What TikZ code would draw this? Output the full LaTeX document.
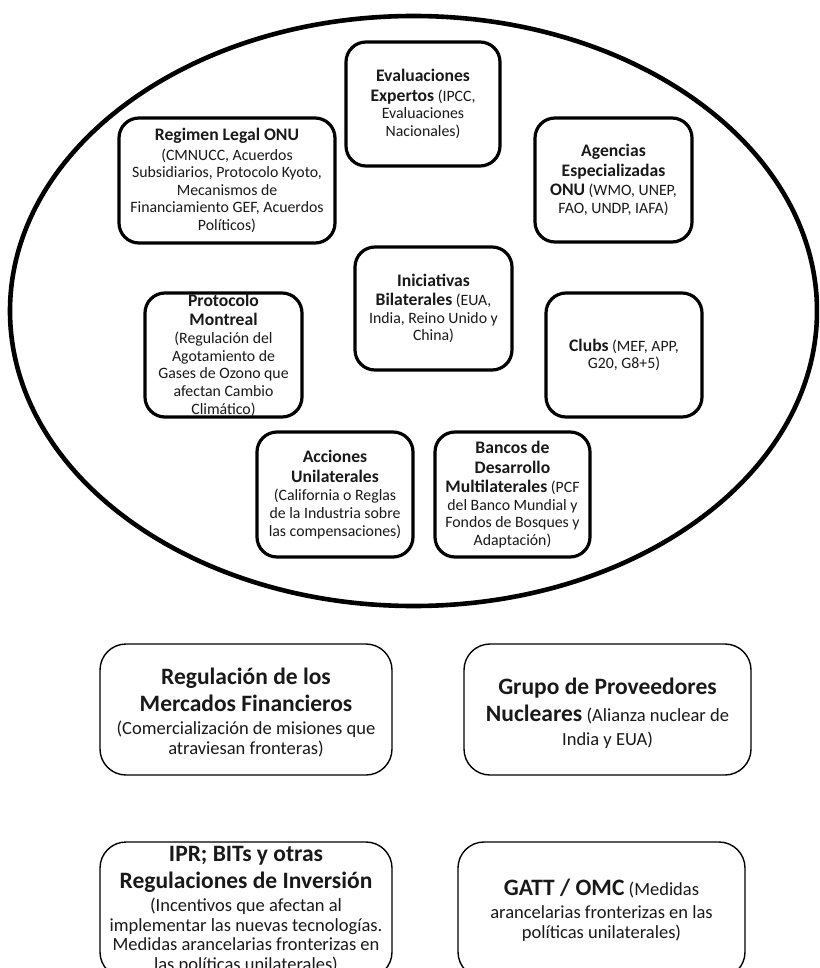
\documentclass[tikz,border=0pt]{standalone}
\usepackage{fontspec}
\setmainfont{Carlito}
\newcommand\nolsl{\setlength{\lineskiplimit}{-100pt}}
\newcommand\efont{\fontsize{15.8}{17.6}\selectfont\nolsl}
\newcommand\bfont{\fontsize{18.5}{19.5}\selectfont\nolsl}
\newcommand\tb[1]{{\fontsize{17.6}{18}\selectfont\bfseries #1}}
\newcommand\bigt[1]{{\fontsize{23.5}{27}\selectfont\bfseries #1}}
\begin{document}
\begin{tikzpicture}[x=1pt,y=-1pt,
  ebox/.style={draw=black, line width=3.2pt, rounded corners=20pt, inner sep=0pt},
  bbox/.style={draw=black, line width=1.4pt, rounded corners=26pt, inner sep=0pt},
  etext/.style={align=center, inner sep=0pt, text=black!90, font=\efont},
  btext/.style={align=center, inner sep=0pt, text=black!90, font=\bfont},
]
\clip (0,0) rectangle (819,968);
\fill[white] (0,0) rectangle (819,968);

% big ellipse
\draw[line width=4.6pt] (413.5,311) ellipse [x radius=403.5pt, y radius=295pt];

% boxes inside the ellipse
\node[ebox, minimum width=154pt, minimum height=124pt] (eval) at (423,104) {};
\node[etext] (eval-t) at (eval) {\tb{Evaluaciones}\\[2pt]\tb{Expertos} (IPCC,\\Evaluaciones\\Nacionales)};

\node[ebox, minimum width=216pt, minimum height=125pt] (regimen) at (227,180.5) {};
\node[etext] (regimen-t) at (regimen) {\tb{Regimen Legal ONU}\\[1.8pt](CMNUCC, Acuerdos\\Subsidiarios, Protocolo Kyoto,\\Mecanismos de\\Financiamiento GEF, Acuerdos\\Políticos)};

\node[ebox, minimum width=157pt, minimum height=124pt] (agencias) at (613.5,180) {};
\node[etext] (agencias-t) at (agencias) {\tb{Agencias}\\[2pt]\tb{Especializadas}\\[2pt]\tb{ONU} (WMO, UNEP,\\FAO, UNDP, IAFA)};

\node[ebox, minimum width=157pt, minimum height=123pt] (inic) at (433.5,308.5) {};
\node[etext] (inic-t) at (inic) {\tb{Iniciativas}\\[2pt]\tb{Bilaterales} (EUA,\\India, Reino Unido y\\China)};

\node[ebox, minimum width=157pt, minimum height=124pt] (proto) at (223.5,355) {};
\node[etext] (proto-t) at (proto) {\tb{Protocolo}\\[2pt]\tb{Montreal}\\[0.5pt](Regulación del\\Agotamiento de\\Gases de Ozono que\\afectan Cambio\\Climático)};

\node[ebox, minimum width=156pt, minimum height=124pt] (clubs) at (624,355) {};
\node[etext] (clubs-t) at (clubs) {\tb{Clubs} (MEF, APP,\\G20, G8+5)};

\node[ebox, minimum width=156pt, minimum height=125pt] (acciones) at (335,494.5) {};
\node[etext] (acciones-t) at (acciones) {\tb{Acciones}\\[2pt]\tb{Unilaterales}\\[1pt](California o Reglas\\de la Industria sobre\\las compensaciones)};

\node[ebox, minimum width=155pt, minimum height=125pt] (bancos) at (512.5,494.5) {};
\node[etext] (bancos-t) at (bancos) {\tb{Bancos de}\\[2pt]\tb{Desarrollo}\\[2pt]\tb{Multilaterales} (PCF\\del Banco Mundial y\\Fondos de Bosques y\\Adaptación)};

% boxes outside the ellipse
\node[bbox, minimum width=292pt, minimum height=131pt] (regfin) at (246,709.5) {};
\node[btext] (regfin-t) at (246,712.5) {\bigt{Regulación de los}\\[7.5pt]\bigt{Mercados Financieros}\\[4pt](Comercialización de misiones que\\atraviesan fronteras)};

\node[bbox, minimum width=287pt, minimum height=131pt] (grupo) at (607.5,709.5) {};
\node[btext] (grupo-t) at (607.5,713) {\bigt{Grupo de Proveedores}\\[7.5pt]\bigt{Nucleares} (Alianza nuclear de\\[4pt]India y EUA)};

\node[bbox, minimum width=292pt, minimum height=136pt] (ipr) at (246,910) {};
\node[btext] (ipr-t) at (246,909.5) {\bigt{IPR; BITs y otras}\\[7.5pt]\bigt{Regulaciones de Inversión}\\[4pt](Incentivos que afectan al\\implementar las nuevas tecnologías.\\Medidas arancelarias fronterizas en\\las políticas unilaterales)};

\node[bbox, minimum width=287pt, minimum height=136pt] (gatt) at (601.5,910) {};
\node[btext] (gatt-t) at (601.5,910) {\bigt{GATT / OMC} (Medidas\\[4pt]arancelarias fronterizas en las\\políticas unilaterales)};
\end{tikzpicture}
\end{document}
